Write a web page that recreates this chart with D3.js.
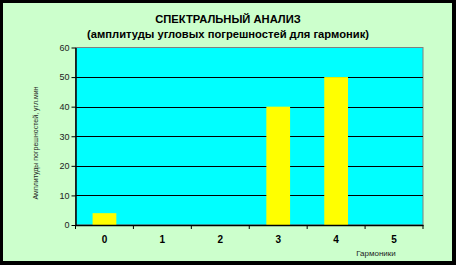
<!DOCTYPE html>
<html>
<head>
<meta charset="utf-8">
<script src="https://cdn.jsdelivr.net/npm/d3@7"></script>
<style>
  body { margin: 0; background: #000; }
  svg { display: block; }
</style>
</head>
<body>
<svg width="456" height="265"></svg>
<script>
// harmonics and their amplitudes
const harmonics = ['0', '1', '2', '3', '4', '5'];
const amplitudes = [4, 0, 0, 40, 50, 0];
const yTicks = [0, 10, 20, 30, 40, 50, 60];

const svg = d3.select("svg");

// chart area background
svg.append("rect")
    .attr("x", 3).attr("y", 3)
    .attr("width", 449).attr("height", 258)
    .attr("fill", "#ccffcc");

const plotLeft = 75.5, plotRight = 423, plotTop = 47.5, plotBottom = 225;

const x = d3.scaleBand()
    .domain(harmonics)
    .range([plotLeft, plotRight])
    .paddingInner(0.59)
    .paddingOuter(0.295);

const xc = d3.scaleBand().domain(harmonics).range([plotLeft, plotRight]);

const y = d3.scaleLinear().domain([0, 60]).range([plotBottom, plotTop]);

// plot area
svg.append("rect")
    .attr("x", plotLeft).attr("y", plotTop)
    .attr("width", plotRight - plotLeft).attr("height", plotBottom - plotTop)
    .attr("fill", "#00ffff")
    .attr("stroke", "#808080")
    .attr("stroke-width", 1);

// grid lines
svg.append("g")
    .selectAll("line")
    .data(yTicks.filter(d => d > 0 && d < 60))
    .enter()
    .append("line")
    .attr("x1", plotLeft).attr("x2", plotRight)
    .attr("y1", d => Math.round(y(d)) + 0.5)
    .attr("y2", d => Math.round(y(d)) + 0.5)
    .style("stroke", "black")
    .style("stroke-width", 1);

// bars
svg.append("g")
    .selectAll("rect")
    .data(amplitudes)
    .enter()
    .append("rect")
    .attr("x", (d, i) => x(harmonics[i]))
    .attr("y", d => y(d))
    .attr("width", x.bandwidth())
    .attr("height", d => plotBottom - y(d))
    .attr("fill", "#ffff00");

// y axis
const yAxis = svg.append("g")
    .attr("transform", `translate(${plotLeft},0)`)
    .call(d3.axisLeft(y).tickValues(yTicks).tickSize(4).tickSizeOuter(0));
yAxis.select(".domain").attr("stroke", "black").attr("stroke-width", 1.5);
yAxis.selectAll("text")
    .attr("font-family", "Liberation Sans, Arial, sans-serif")
    .attr("font-size", 9)
    .attr("fill", "#222")
    .attr("x", -6);

// x axis
const xAxis = svg.append("g")
    .attr("transform", `translate(0,${plotBottom})`)
    .call(d3.axisBottom(xc).tickSize(0).tickSizeOuter(0).tickPadding(11));
xAxis.select(".domain").attr("stroke", "black").attr("stroke-width", 1.5);
xAxis.selectAll("text")
    .attr("font-family", "Liberation Sans, Arial, sans-serif")
    .attr("font-size", 10)
    .attr("font-weight", "bold")
    .attr("fill", "black");

// category separator ticks
svg.append("g")
    .selectAll("line")
    .data(harmonics.concat(["end"]))
    .enter()
    .append("line")
    .attr("x1", (d, i) => i < harmonics.length ? xc(d) : plotRight)
    .attr("x2", (d, i) => i < harmonics.length ? xc(d) : plotRight)
    .attr("y1", plotBottom)
    .attr("y2", plotBottom + 4)
    .style("stroke", "black")
    .style("stroke-width", 1);

// titles
svg.append("text")
    .attr("x", 228).attr("y", 23)
    .attr("text-anchor", "middle")
    .attr("font-family", "Liberation Sans, Arial, sans-serif")
    .attr("font-size", 11.2)
    .attr("font-weight", "bold")
    .text("СПЕКТРАЛЬНЫЙ АНАЛИЗ");

svg.append("text")
    .attr("x", 228).attr("y", 38)
    .attr("text-anchor", "middle")
    .attr("font-family", "Liberation Sans, Arial, sans-serif")
    .attr("font-size", 11.2)
    .attr("font-weight", "bold")
    .text("(амплитуды угловых погрешностей для гармоник)");

// axis titles
svg.append("text")
    .attr("x", 376).attr("y", 256)
    .attr("text-anchor", "middle")
    .attr("font-family", "Liberation Sans, Arial, sans-serif")
    .attr("font-size", 8)
    .attr("fill", "#222")
    .text("Гармоники");

svg.append("text")
    .attr("transform", "translate(38,143) rotate(-90)")
    .attr("text-anchor", "middle")
    .attr("font-family", "Liberation Sans, Arial, sans-serif")
    .attr("font-size", 7)
    .attr("fill", "#222")
    .text("Амплитуды погрешностей,   угл.мин");
</script>
</body>
</html>
